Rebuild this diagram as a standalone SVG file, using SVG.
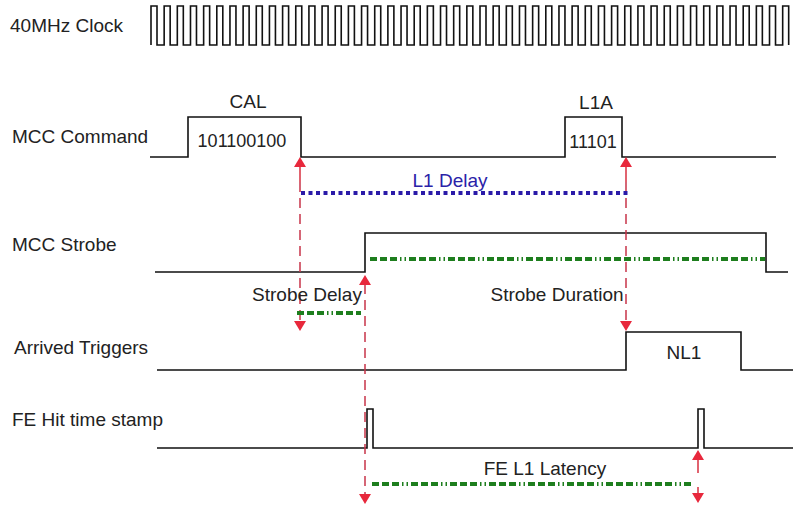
<svg xmlns="http://www.w3.org/2000/svg" width="794" height="508" viewBox="0 0 794 508">
<style>
text{font-family:"Liberation Sans",Arial,sans-serif;font-size:19px;fill:#222}
.mid{text-anchor:middle}
.sig{fill:none;stroke:#111;stroke-width:1.6}
.blue{fill:#2a22a8}
.dot{fill:none;stroke:#2a1aa8;stroke-width:4;stroke-dasharray:4 3.5}
.green{fill:none;stroke:#1e7e1e;stroke-width:4;stroke-dasharray:7 3 7 3 7 3 1.5 3 1.5 3}
.rdash{fill:none;stroke:#c8344a;stroke-width:1.5;stroke-dasharray:10 6}
.rsolid{fill:none;stroke:#d83040;stroke-width:1.5}
.ah{fill:#e8283c}
</style>
<defs>
<polygon id="up" points="0,0 -6,10 6,10"/>
<polygon id="dn" points="0,0 -6,-10 6,-10"/>
</defs>
<rect width="794" height="508" fill="#fff"/>

<g id="clock">
<text x="10" y="32">40MHz Clock</text>
<path class="sig" d="M151,45V6h6V45
h7.16V6h6V45h7.16V6h6V45h7.16V6h6V45h7.16V6h6V45h7.16V6h6V45h7.16V6h6V45h7.16V6h6V45h7.16V6h6V45
h7.16V6h6V45h7.16V6h6V45h7.16V6h6V45h7.16V6h6V45h7.16V6h6V45h7.16V6h6V45h7.16V6h6V45h7.16V6h6V45
h7.16V6h6V45h7.16V6h6V45h7.16V6h6V45h7.16V6h6V45h7.16V6h6V45h7.16V6h6V45h7.16V6h6V45h7.16V6h6V45
h7.16V6h6V45h7.16V6h6V45h7.16V6h6V45h7.16V6h6V45h7.16V6h6V45h7.16V6h6V45h7.16V6h6V45h7.16V6h6V45
h7.16V6h6V45h7.16V6h6V45h7.16V6h6V45h7.16V6h6V45h7.16V6h6V45h7.16V6h6V45h7.16V6h6V45h7.16V6h6V45
h7.16V6h6V45h7.16V6h6V45h7.16V6h6V45h7.16V6h6V45h7.16V6h6V45h7.16V6h6V45h7.16V6h6V45h7.16V6h6V45"/>
</g>

<g id="mcc-command">
<text x="12" y="143">MCC Command</text>
<path class="sig" d="M150,157H188V117H301V157H565V117H622V157H776"/>
<text class="mid" x="248" y="108">CAL</text>
<text class="mid" x="242" y="147" style="font-size:18px">101100100</text>
<text class="mid" x="596" y="109">L1A</text>
<text class="mid" x="593" y="148" style="font-size:18px">11101</text>
</g>

<g id="mcc-strobe">
<text x="12" y="251">MCC Strobe</text>
<path class="sig" d="M155,272H365V233H766V272H788"/>
</g>

<g id="arrived-triggers">
<text x="14" y="354">Arrived Triggers</text>
<path class="sig" d="M157,370H626V332H741V370H793"/>
<text class="mid" x="684" y="359">NL1</text>
</g>

<g id="fe-hit">
<text x="12" y="426">FE Hit time stamp</text>
<path class="sig" d="M157,448H367V409H373V448H698V409H704V448H793"/>
</g>

<g id="connectors">
<path class="rsolid" d="M300,165V182M626,165V182M698,458V473M698,487V494"/>
<path class="rdash" d="M300,182V321M626,182V321M365,284V495"/>
<use href="#up" class="ah" x="300" y="157"/>
<use href="#dn" class="ah" x="300" y="331"/>
<use href="#up" class="ah" x="626" y="157"/>
<use href="#dn" class="ah" x="626" y="331"/>
<use href="#up" class="ah" x="365" y="275"/>
<use href="#dn" class="ah" x="365" y="504"/>
<use href="#up" class="ah" x="698" y="450"/>
<use href="#dn" class="ah" x="698" y="503"/>
<path class="dot" d="M301,193H628"/>
<path class="green" d="M370,259H765"/>
<path class="green" d="M297,313H361"/>
<path class="green" d="M372,484H692"/>
<text class="mid blue" x="450" y="187">L1 Delay</text>
<text class="mid" x="307" y="301">Strobe Delay</text>
<text class="mid" x="557" y="301">Strobe Duration</text>
<text class="mid" x="545" y="475">FE L1 Latency</text>
</g>
</svg>
